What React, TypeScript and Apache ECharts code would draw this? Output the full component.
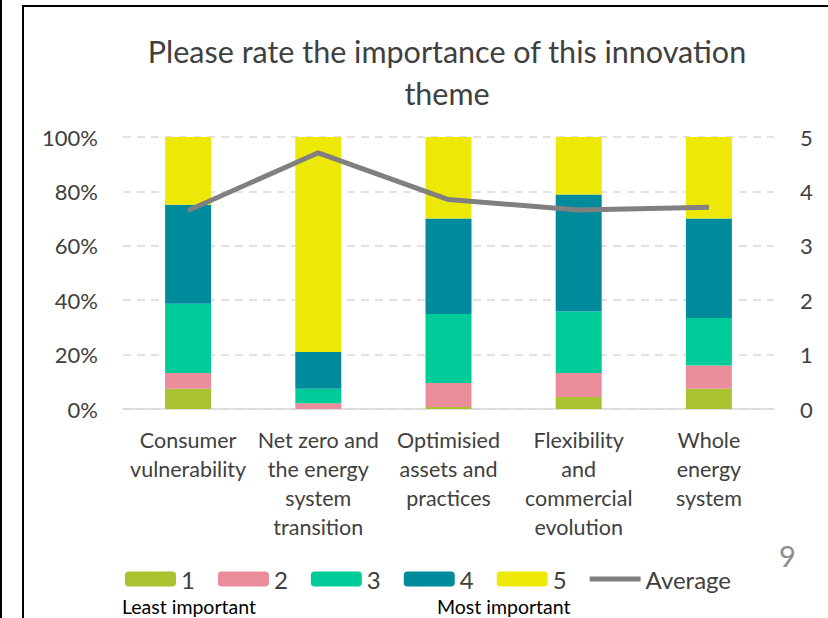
import React, { useEffect, useRef } from "react";
import * as echarts from "echarts";

const categories = [
  "Consumer\nvulnerability",
  "Net zero and\nthe energy\nsystem\ntransition",
  "Optimisied\nassets and\npractices",
  "Flexibility\nand\ncommercial\nevolution",
  "Whole\nenergy\nsystem",
];
const rating1 = [7.4, 0, 0.7, 4.4, 7.4];
const rating2 = [5.8, 2.1, 8.9, 8.8, 8.6];
const rating3 = [25.5, 5.3, 25.3, 22.6, 17.5];
const rating4 = [36.4, 13.6, 35.1, 43.1, 36.5];
const rating5 = [24.9, 79.0, 30.0, 21.1, 30.0];
const average = [3.65, 4.71, 3.85, 3.66, 3.71];
const leftTicks = [0, 20, 40, 60, 80, 100];
const rightTicks = [0, 1, 2, 3, 4, 5];

const colors = ["#A9C22F", "#EA8C99", "#00CC99", "#008B9C", "#EEE809"];
const FONT = "Lato";

export default function App() {
  const ref = useRef<HTMLDivElement>(null);
  useEffect(() => {
    document.body.style.margin = "0";
    const chart = echarts.init(ref.current!, null, { renderer: "svg" });
    const ratings = [rating1, rating2, rating3, rating4, rating5];
    const barSeries = ratings.map((d, i) => ({
      name: String(i + 1),
      type: "bar",
      stack: "total",
      barWidth: 46,
      data: d,
      itemStyle: { color: colors[i] },
      yAxisIndex: 0,
    }));
    chart.setOption({
      animation: false,
      textStyle: { fontFamily: FONT },
      title: {
        text: "Please rate the importance of this innovation\ntheme",
        left: 442,
        top: 25,
        textAlign: "center",
        textStyle: {
          fontFamily: FONT,
          fontSize: 30.5,
          fontWeight: "normal",
          color: "#404040",
          lineHeight: 42,
        },
      },
      legend: {
        left: 125,
        top: 567,
        padding: 0,
        itemWidth: 51,
        itemHeight: 15,
        itemGap: 23,
        symbolKeepAspect: true,
        textStyle: { fontFamily: FONT, fontSize: 24, lineHeight: 20, color: "#404040" },
        data: [
          "1",
          "2",
          "3",
          "4",
          "5",
          { name: "Average", icon: "path://M0 0 H10 V1 H0 Z" },
        ],
      },
      grid: { left: 123, right: 54, top: 137, bottom: 209, containLabel: false },
      xAxis: {
        type: "category",
        data: categories,
        axisTick: { show: false },
        axisLine: { lineStyle: { color: "#D9D9D9", width: 1.5 } },
        axisLabel: {
          interval: 0,
          margin: 16,
          fontFamily: FONT,
          fontSize: 21.5,
          lineHeight: 29,
          color: "#404040",
        },
      },
      yAxis: [
        {
          type: "value",
          min: leftTicks[0],
          max: leftTicks[leftTicks.length - 1],
          interval: leftTicks[1] - leftTicks[0],
          axisLabel: {
            formatter: "{value}%",
            fontFamily: FONT,
            fontSize: 22,
            color: "#404040",
            margin: 25,
          },
          axisLine: { show: false },
          axisTick: { show: false },
          splitLine: {
            lineStyle: { color: "#D9D9D9", width: 1.5, type: [8, 6] },
          },
        },
        {
          type: "value",
          min: rightTicks[0],
          max: rightTicks[rightTicks.length - 1],
          interval: rightTicks[1] - rightTicks[0],
          position: "right",
          axisLabel: {
            fontFamily: FONT,
            fontSize: 22,
            color: "#404040",
            margin: 26,
          },
          axisLine: { show: false },
          axisTick: { show: false },
          splitLine: { show: false },
        },
      ],
      series: [
        ...barSeries,
        {
          name: "Average",
          type: "line",
          yAxisIndex: 1,
          data: average,
          symbol: "none",
          lineStyle: { color: "#808080", width: 5 },
          itemStyle: { color: "#808080" },
          z: 5,
        },
      ],
      graphic: [
        { type: "line", shape: { x1: 1, y1: 0, x2: 1, y2: 618 }, style: { stroke: "#000", lineWidth: 2 } },
        { type: "line", shape: { x1: 23, y1: 6, x2: 23, y2: 618 }, style: { stroke: "#000", lineWidth: 2 } },
        { type: "line", shape: { x1: 22, y1: 6, x2: 828, y2: 6 }, style: { stroke: "#000", lineWidth: 2 } },
        {
          type: "text",
          left: 122,
          top: 596,
          style: { text: "Least important", fontFamily: FONT, fontSize: 19.5, fill: "#000" },
        },
        {
          type: "text",
          left: 437,
          top: 596,
          style: { text: "Most important", fontFamily: FONT, fontSize: 19.5, fill: "#000" },
        },
        {
          type: "text",
          left: 779,
          top: 541,
          style: { text: "9", fontFamily: FONT, fontSize: 29, fill: "#8C8C8C" },
        },
      ],
    });
    return () => chart.dispose();
  }, []);
  return <div ref={ref} style={{ width: 828, height: 618 }} />;
}
